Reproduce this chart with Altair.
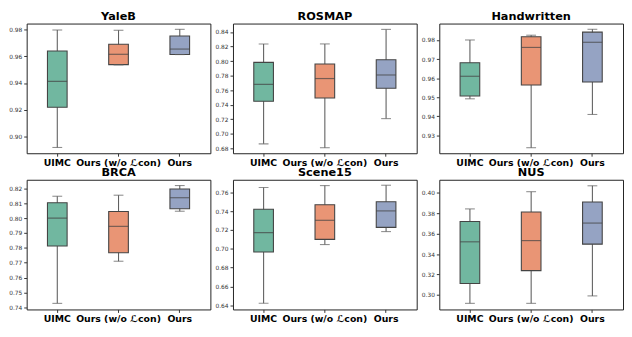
import altair as alt
import pandas as pd

datasets = ["YaleB", "ROSMAP", "Handwritten", "BRCA", "Scene15", "NUS"]
methods = ["UIMC", "Ours (w/o ℒcon)", "Ours"]
colors = ["#71b7a0", "#e99575", "#95a3c3"]

# five-number summaries per dataset, order: UIMC, Ours (w/o), Ours
whisker_low = {
    "YaleB": [0.892, 0.9535, 0.9612],
    "ROSMAP": [0.6862, 0.6809, 0.7209],
    "Handwritten": [0.9492, 0.9236, 0.941],
    "BRCA": [0.7426, 0.771, 0.8047],
    "Scene15": [0.6421, 0.7045, 0.7183],
    "NUS": [0.2917, 0.2917, 0.2990],
}
quartile_1 = {
    "YaleB": [0.9219, 0.9537, 0.9613],
    "ROSMAP": [0.7449, 0.7493, 0.7627],
    "Handwritten": [0.9507, 0.9564, 0.9580],
    "BRCA": [0.7813, 0.7767, 0.8064],
    "Scene15": [0.6966, 0.7100, 0.7228],
    "NUS": [0.3111, 0.3238, 0.3498],
}
medians = {
    "YaleB": [0.9412, 0.9614, 0.9653],
    "ROSMAP": [0.768, 0.776, 0.7809],
    "Handwritten": [0.961, 0.9761, 0.9788],
    "BRCA": [0.800, 0.7945, 0.8138],
    "Scene15": [0.7172, 0.7303, 0.7403],
    "NUS": [0.3521, 0.3533, 0.3705],
}
quartile_3 = {
    "YaleB": [0.9639, 0.9689, 0.975],
    "ROSMAP": [0.7982, 0.796, 0.8018],
    "Handwritten": [0.9681, 0.9817, 0.9841],
    "BRCA": [0.8104, 0.8045, 0.8197],
    "Scene15": [0.7421, 0.7469, 0.7500],
    "NUS": [0.3721, 0.3813, 0.3911],
}
whisker_high = {
    "YaleB": [0.9795, 0.9793, 0.980],
    "ROSMAP": [0.8236, 0.8236, 0.8436],
    "Handwritten": [0.980, 0.9825, 0.9856],
    "BRCA": [0.8148, 0.8155, 0.822],
    "Scene15": [0.7652, 0.7672, 0.7676],
    "NUS": [0.3844, 0.4013, 0.4071],
}
y_domains = {
    "YaleB": [0.8877, 0.9843],
    "ROSMAP": [0.6733, 0.8516],
    "Handwritten": [0.9207, 0.9886],
    "BRCA": [0.7385, 0.8259],
    "Scene15": [0.6355, 0.7734],
    "NUS": [0.2857, 0.413],
}
y_ticks = {
    "YaleB": [0.90, 0.92, 0.94, 0.96, 0.98],
    "ROSMAP": [0.68, 0.70, 0.72, 0.74, 0.76, 0.78, 0.80, 0.82, 0.84],
    "Handwritten": [0.93, 0.94, 0.95, 0.96, 0.97, 0.98],
    "BRCA": [0.74, 0.75, 0.76, 0.77, 0.78, 0.79, 0.80, 0.81, 0.82],
    "Scene15": [0.64, 0.66, 0.68, 0.70, 0.72, 0.74, 0.76],
    "NUS": [0.30, 0.32, 0.34, 0.36, 0.38, 0.40],
}

W, H = 187, 132
BOX = 20
EDGE = "#444444"
FONT = "DejaVu Sans"


def panel(name):
    df = pd.DataFrame({
        "method": methods,
        "lo": whisker_low[name],
        "q1": quartile_1[name],
        "med": medians[name],
        "q3": quartile_3[name],
        "hi": whisker_high[name],
    })
    xenc = alt.X(
        "method:N", sort=methods, title=None,
        scale=alt.Scale(domain=methods, paddingInner=0, paddingOuter=0),
        axis=alt.Axis(labelAngle=0, labelFontWeight="bold", labelFontSize=9.5,
                      labelFont=FONT, labelColor="black", ticks=True, tickSize=3,
                      tickColor="#333", domain=False, labelOverlap=False,
                      labelBound=False, labelPadding=1),
    )
    yscale = alt.Scale(domain=y_domains[name], nice=False, zero=False)
    yaxis = alt.Axis(values=y_ticks[name], format=".2f", labelFontSize=6,
                     labelFont=FONT, labelColor="#333", tickSize=3,
                     tickColor="#333", domain=False, grid=False, labelPadding=2)

    def Y(f):
        return alt.Y(f, title=None, scale=yscale, axis=yaxis)

    base = alt.Chart(df).encode(x=xenc)
    whisk = base.mark_rule(color="#606060", strokeWidth=1.1).encode(y=Y("lo:Q"), y2="hi:Q")
    box = base.mark_bar(size=BOX, stroke=EDGE, strokeWidth=1.1).encode(
        y=Y("q1:Q"), y2="q3:Q",
        color=alt.Color("method:N", scale=alt.Scale(domain=methods, range=colors), legend=None),
    )
    cap_lo = base.mark_tick(size=10, thickness=1.1, color="#606060").encode(y=Y("lo:Q"))
    cap_hi = base.mark_tick(size=10, thickness=1.1, color="#606060").encode(y=Y("hi:Q"))
    med = base.mark_tick(size=BOX, thickness=1.2, color=EDGE).encode(y=Y("med:Q"))
    return alt.layer(whisk, box, cap_lo, cap_hi, med).properties(
        width=W, height=H,
        title=alt.TitleParams(name, fontSize=11.5, fontWeight="bold", font=FONT,
                              color="black", offset=1),
    )


row1 = alt.hconcat(*[panel(n) for n in datasets[:3]], spacing=3)
row2 = alt.hconcat(*[panel(n) for n in datasets[3:]], spacing=3)
chart = alt.vconcat(row1, row2, spacing=0).properties(padding=0).configure_view(
    stroke="#222", strokeWidth=1
)

chart.save("out.html", embed_options={"renderer": "svg", "actions": False})
